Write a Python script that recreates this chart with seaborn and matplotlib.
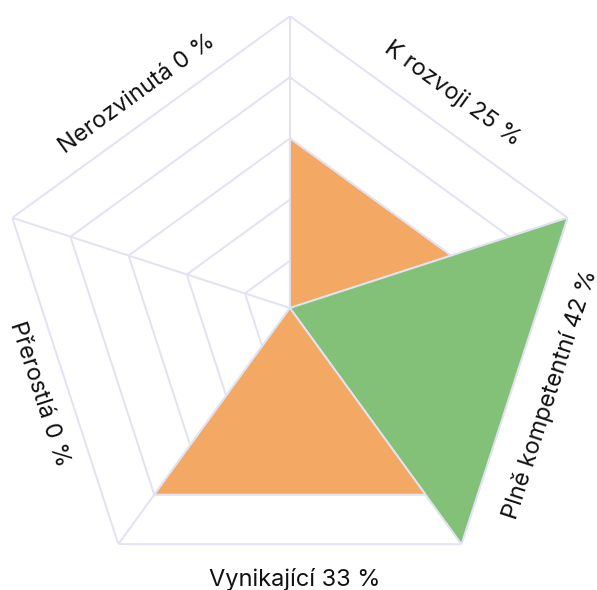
import numpy as np
import pandas as pd
import matplotlib
matplotlib.use("Agg")
import matplotlib.pyplot as plt
import matplotlib.transforms as mtransforms
import seaborn as sns

# categories go clockwise from the top spoke
categories = ["K rozvoji", "Plně kompetentní", "Vynikající", "Přerostlá", "Nerozvinutá"]
percent_labels = [25, 42, 33, 0, 0]
# radius of each sector as drawn (scale max 42)
radius_values = [24.4, 42.0, 33.2, 0.0, 0.0]
sector_colors = ["#f3a964", "#82c177", "#f3a964", "#f3a964", "#f3a964"]
ring_levels = [6.8, 15.6, 24.4, 33.2, 42.0]
scale_max = 42.0

grid_color = "#e2e2f3"

sns.set_theme(style="white")
plt.rcParams["font.family"] = ["Inter", "DejaVu Sans"]

n = len(categories)
spokes = np.linspace(0, 2 * np.pi, n + 1)

fig = plt.figure(figsize=(5.97, 5.90), dpi=100)
ax = fig.add_axes([-0.0034, -0.017, 0.978, 0.99], projection="polar")
ax.set_theta_zero_location("N")
ax.set_theta_direction(-1)
ax.grid(False)
ax.spines["polar"].set_visible(False)
ax.set_xticks([])
ax.set_yticks([])
ax.set_facecolor("white")

# pentagon rings
rings = pd.DataFrame(
    [(lvl, t, lvl) for lvl in ring_levels for t in spokes],
    columns=["level", "theta", "r"],
)
sns.lineplot(
    data=rings,
    x="theta",
    y="r",
    units="level",
    estimator=None,
    sort=False,
    color=grid_color,
    linewidth=1.4,
    legend=False,
    ax=ax,
    zorder=1,
)
for t in spokes[:-1]:
    ax.plot([t, t], [0, scale_max], color=grid_color, linewidth=1.4, zorder=1)

# sectors
for i in range(n):
    v = radius_values[i]
    if v <= 0:
        continue
    ax.fill(
        [spokes[i], spokes[i], spokes[i + 1]],
        [0, v, v],
        facecolor=sector_colors[i],
        edgecolor=grid_color,
        linewidth=1.4,
        zorder=2,
    )

# labels, nudged a few pixels right/down like the original
label_tf = mtransforms.offset_copy(ax.transData, fig=fig, x=5, y=-3, units="dots")
for i in range(n):
    mid = (spokes[i] + spokes[i + 1]) / 2
    rot = -np.degrees(mid)
    rot = (rot + 180) % 360 - 180
    if rot > 90:
        rot -= 180
    elif rot < -90:
        rot += 180
    ax.text(
        mid,
        scale_max * 0.92,
        f"{categories[i]} {percent_labels[i]} %",
        transform=label_tf,
        rotation=rot,
        rotation_mode="anchor",
        ha="center",
        va="center",
        fontsize=17,
        color="#111111",
        clip_on=False,
    )

ax.set_xlabel("")
ax.set_ylabel("")
ax.set_ylim(0, scale_max)

fig.savefig("out.png", dpi=100, facecolor="white")
